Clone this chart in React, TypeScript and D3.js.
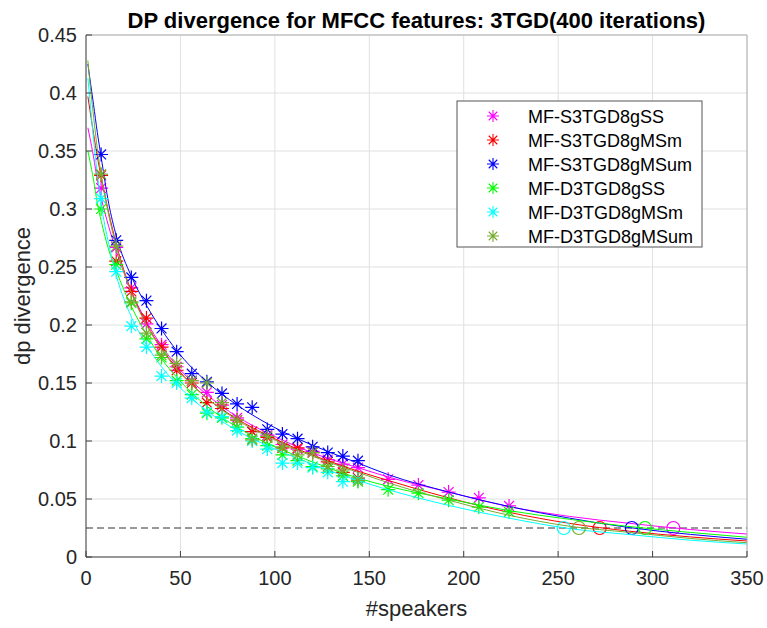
import React from "react";
import * as d3 from "d3";

const W = 767;
const H = 628;
const M = { left: 86, right: 747, top: 35, bottom: 557 };

const seriesNames = [
  "MF-S3TGD8gSS",
  "MF-S3TGD8gMSm",
  "MF-S3TGD8gMSum",
  "MF-D3TGD8gSS",
  "MF-D3TGD8gMSm",
  "MF-D3TGD8gMSum",
];
const seriesColors = ["#ff00ff", "#ff0000", "#0000ff", "#00ff00", "#00ffff", "#77ac30"];

// sample x positions (#speakers)
const xShort = [8, 16, 24, 32, 40, 48, 56, 64, 72, 80, 88, 96, 104, 112, 120, 128, 136, 144];
const xLong = [8, 16, 24, 32, 40, 48, 56, 64, 72, 80, 88, 96, 104, 112, 120, 128, 136, 144, 160, 176, 192, 208, 224];

// observed dp divergence (stars)
const magentaPts = [0.318, 0.267, 0.232, 0.201, 0.183, 0.164, 0.152, 0.142, 0.131, 0.120, 0.108, 0.105, 0.097, 0.093, 0.091, 0.084, 0.080, 0.077, 0.067, 0.062, 0.056, 0.051, 0.044];
const redPts = [0.329, 0.255, 0.229, 0.206, 0.181, 0.161, 0.150, 0.133, 0.128, 0.118, 0.108, 0.103, 0.094, 0.094, 0.090, 0.082, 0.073, 0.068];
const bluePts = [0.347, 0.273, 0.241, 0.221, 0.197, 0.177, 0.158, 0.151, 0.141, 0.132, 0.129, 0.110, 0.106, 0.102, 0.095, 0.090, 0.087, 0.083];
const greenPts = [0.300, 0.252, 0.219, 0.188, 0.172, 0.152, 0.140, 0.124, 0.120, 0.112, 0.102, 0.096, 0.088, 0.083, 0.078, 0.076, 0.070, 0.065, 0.058, 0.055, 0.049, 0.043, 0.039];
const cyanPts = [0.309, 0.246, 0.199, 0.181, 0.156, 0.150, 0.137, 0.125, 0.121, 0.109, 0.100, 0.093, 0.081, 0.081, 0.077, 0.073, 0.065, 0.067];
const olivePts = [0.330, 0.268, 0.220, 0.193, 0.174, 0.167, 0.152, 0.150, 0.133, 0.118, 0.101, 0.104, 0.095, 0.088, 0.090, 0.078, 0.075, 0.066];

// fitted curve
const fitX = [1, 2, 4, 6, 8, 12, 16, 24, 32, 40, 48, 64, 80, 96, 112, 128, 144, 160, 192, 224, 256, 288, 320, 350];
const magentaFit = [0.370, 0.362, 0.345, 0.325, 0.310, 0.285, 0.264, 0.229, 0.203, 0.182, 0.165, 0.140, 0.121, 0.107, 0.095, 0.085, 0.077, 0.069, 0.056, 0.0435, 0.035, 0.029, 0.0237, 0.0198];
const redFit = [0.397, 0.386, 0.365, 0.345, 0.328, 0.297, 0.270, 0.229, 0.201, 0.180, 0.163, 0.137, 0.119, 0.105, 0.093, 0.083, 0.074, 0.066, 0.051, 0.0385, 0.029, 0.0222, 0.0173, 0.0138];
const blueFit = [0.425, 0.413, 0.390, 0.366, 0.345, 0.305, 0.277, 0.242, 0.217, 0.196, 0.178, 0.151, 0.131, 0.115, 0.102, 0.091, 0.081, 0.071, 0.056, 0.0435, 0.0335, 0.0253, 0.0195, 0.0153];
const greenFit = [0.350, 0.342, 0.325, 0.305, 0.290, 0.265, 0.247, 0.216, 0.192, 0.171, 0.155, 0.130, 0.112, 0.098, 0.087, 0.077, 0.068, 0.061, 0.050, 0.040, 0.0325, 0.0262, 0.0212, 0.017];
const cyanFit = [0.413, 0.395, 0.360, 0.330, 0.305, 0.270, 0.243, 0.207, 0.183, 0.164, 0.149, 0.126, 0.109, 0.096, 0.085, 0.075, 0.066, 0.058, 0.0445, 0.0335, 0.0245, 0.0193, 0.0145, 0.0112];
const oliveFit = [0.428, 0.410, 0.380, 0.352, 0.330, 0.295, 0.268, 0.228, 0.200, 0.179, 0.162, 0.137, 0.118, 0.104, 0.092, 0.082, 0.073, 0.064, 0.049, 0.036, 0.0265, 0.0212, 0.016, 0.0123];

// speakers needed to reach the threshold (circles)
const threshold = 0.025;
const crossX = [311, 272, 289, 296, 253, 261];

const xTicks = [0, 50, 100, 150, 200, 250, 300, 350];
const yTicks = [0, 0.05, 0.1, 0.15, 0.2, 0.25, 0.3, 0.35, 0.4, 0.45];

const seriesPts = [magentaPts, redPts, bluePts, greenPts, cyanPts, olivePts];
const seriesXs = [xLong, xShort, xShort, xLong, xShort, xShort];
const seriesFits = [magentaFit, redFit, blueFit, greenFit, cyanFit, oliveFit];

const FONT = "'Liberation Sans', Arial, Helvetica, sans-serif";

function starPath(r: number) {
  const d = r * 0.7071;
  return `M${-r},0H${r}M0,${-r}V${r}M${-d},${-d}L${d},${d}M${-d},${d}L${d},${-d}`;
}

export default function App() {
  const x = d3.scaleLinear().domain([0, 350]).range([M.left, M.right]);
  const y = d3.scaleLinear().domain([0, 0.45]).range([M.bottom, M.top]);
  const line = d3
    .line<[number, number]>()
    .x((d) => x(d[0]))
    .y((d) => y(d[1]))
    .curve(d3.curveMonotoneX);
  const star = starPath(7);
  const legendStar = starPath(6);

  const legX = 457, legY = 101, legW = 245, legH = 146;

  return (
    <div style={{ position: "absolute", left: 0, top: 0 }}>
      <svg width={W} height={H} style={{ display: "block", background: "#fff" }}>
        <rect x={0} y={0} width={W} height={H} fill="#fff" />
        {/* grid */}
        {xTicks.map((t) => (
          <line key={"gx" + t} x1={x(t)} x2={x(t)} y1={M.top} y2={M.bottom} stroke="#e0e0e0" strokeWidth={1} />
        ))}
        {yTicks.map((t) => (
          <line key={"gy" + t} x1={M.left} x2={M.right} y1={y(t)} y2={y(t)} stroke="#e0e0e0" strokeWidth={1} />
        ))}
        {/* threshold */}
        <line x1={x(0)} x2={x(350)} y1={y(threshold)} y2={y(threshold)} stroke="#333" strokeWidth={1} strokeDasharray="7,4" />
        {/* series */}
        {seriesNames.map((name, i) => {
          const fit = fitX.map((fx, j) => [fx, seriesFits[i][j]] as [number, number]);
          return (
            <g key={name}>
              <path d={line(fit) || ""} fill="none" stroke={seriesColors[i]} strokeWidth={1} />
              {seriesPts[i].map((v, j) => (
                <path key={j} d={star} transform={`translate(${x(seriesXs[i][j])},${y(v)})`} stroke={seriesColors[i]} strokeWidth={1.2} fill="none" />
              ))}
              <circle cx={x(crossX[i])} cy={y(threshold)} r={6.5} fill="none" stroke={seriesColors[i]} strokeWidth={1.2} />
            </g>
          );
        })}
        {/* axes box */}
        <line x1={M.left} x2={M.right} y1={M.top} y2={M.top} stroke="#b0b0b0" />
        <line x1={M.right} x2={M.right} y1={M.top} y2={M.bottom} stroke="#b0b0b0" />
        <line x1={M.left} x2={M.right} y1={M.bottom} y2={M.bottom} stroke="#404040" />
        <line x1={M.left} x2={M.left} y1={M.top} y2={M.bottom} stroke="#404040" />
        {xTicks.map((t) => (
          <g key={"xt" + t}>
            <line x1={x(t)} x2={x(t)} y1={M.bottom} y2={M.bottom - 6} stroke="#404040" />
            <text x={x(t)} y={M.bottom + 28} textAnchor="middle" fontFamily={FONT} fontSize={20} fill="#262626">
              {t}
            </text>
          </g>
        ))}
        {yTicks.map((t) => (
          <g key={"yt" + t}>
            <line x1={M.left} x2={M.left + 6} y1={y(t)} y2={y(t)} stroke="#404040" />
            <text x={M.left - 9} y={y(t) + 7} textAnchor="end" fontFamily={FONT} fontSize={20} fill="#262626">
              {d3.format("~g")(t)}
            </text>
          </g>
        ))}
        {/* labels */}
        <text x={(M.left + M.right) / 2} y={616} textAnchor="middle" fontFamily={FONT} fontSize={22} fill="#262626">
          #speakers
        </text>
        <text transform={`translate(30,${(M.top + M.bottom) / 2}) rotate(-90)`} textAnchor="middle" fontFamily={FONT} fontSize={22} fill="#262626">
          dp divergence
        </text>
        <text x={(M.left + M.right) / 2} y={28} textAnchor="middle" fontFamily={FONT} fontSize={22} fontWeight="bold" fill="#000">
          DP divergence for MFCC features: 3TGD(400 iterations)
        </text>
        {/* legend */}
        <rect x={legX} y={legY} width={legW} height={legH} fill="#fff" stroke="#555" strokeWidth={1} />
        {seriesNames.map((name, i) => (
          <g key={"lg" + name} transform={`translate(0,${legY + 15 + i * 24})`}>
            <path d={legendStar} transform={`translate(${legX + 36},0)`} stroke={seriesColors[i]} strokeWidth={1.1} fill="none" />
            <text x={legX + 71} y={6.5} fontFamily={FONT} fontSize={18} fill="#000">
              {name}
            </text>
          </g>
        ))}
      </svg>
    </div>
  );
}
